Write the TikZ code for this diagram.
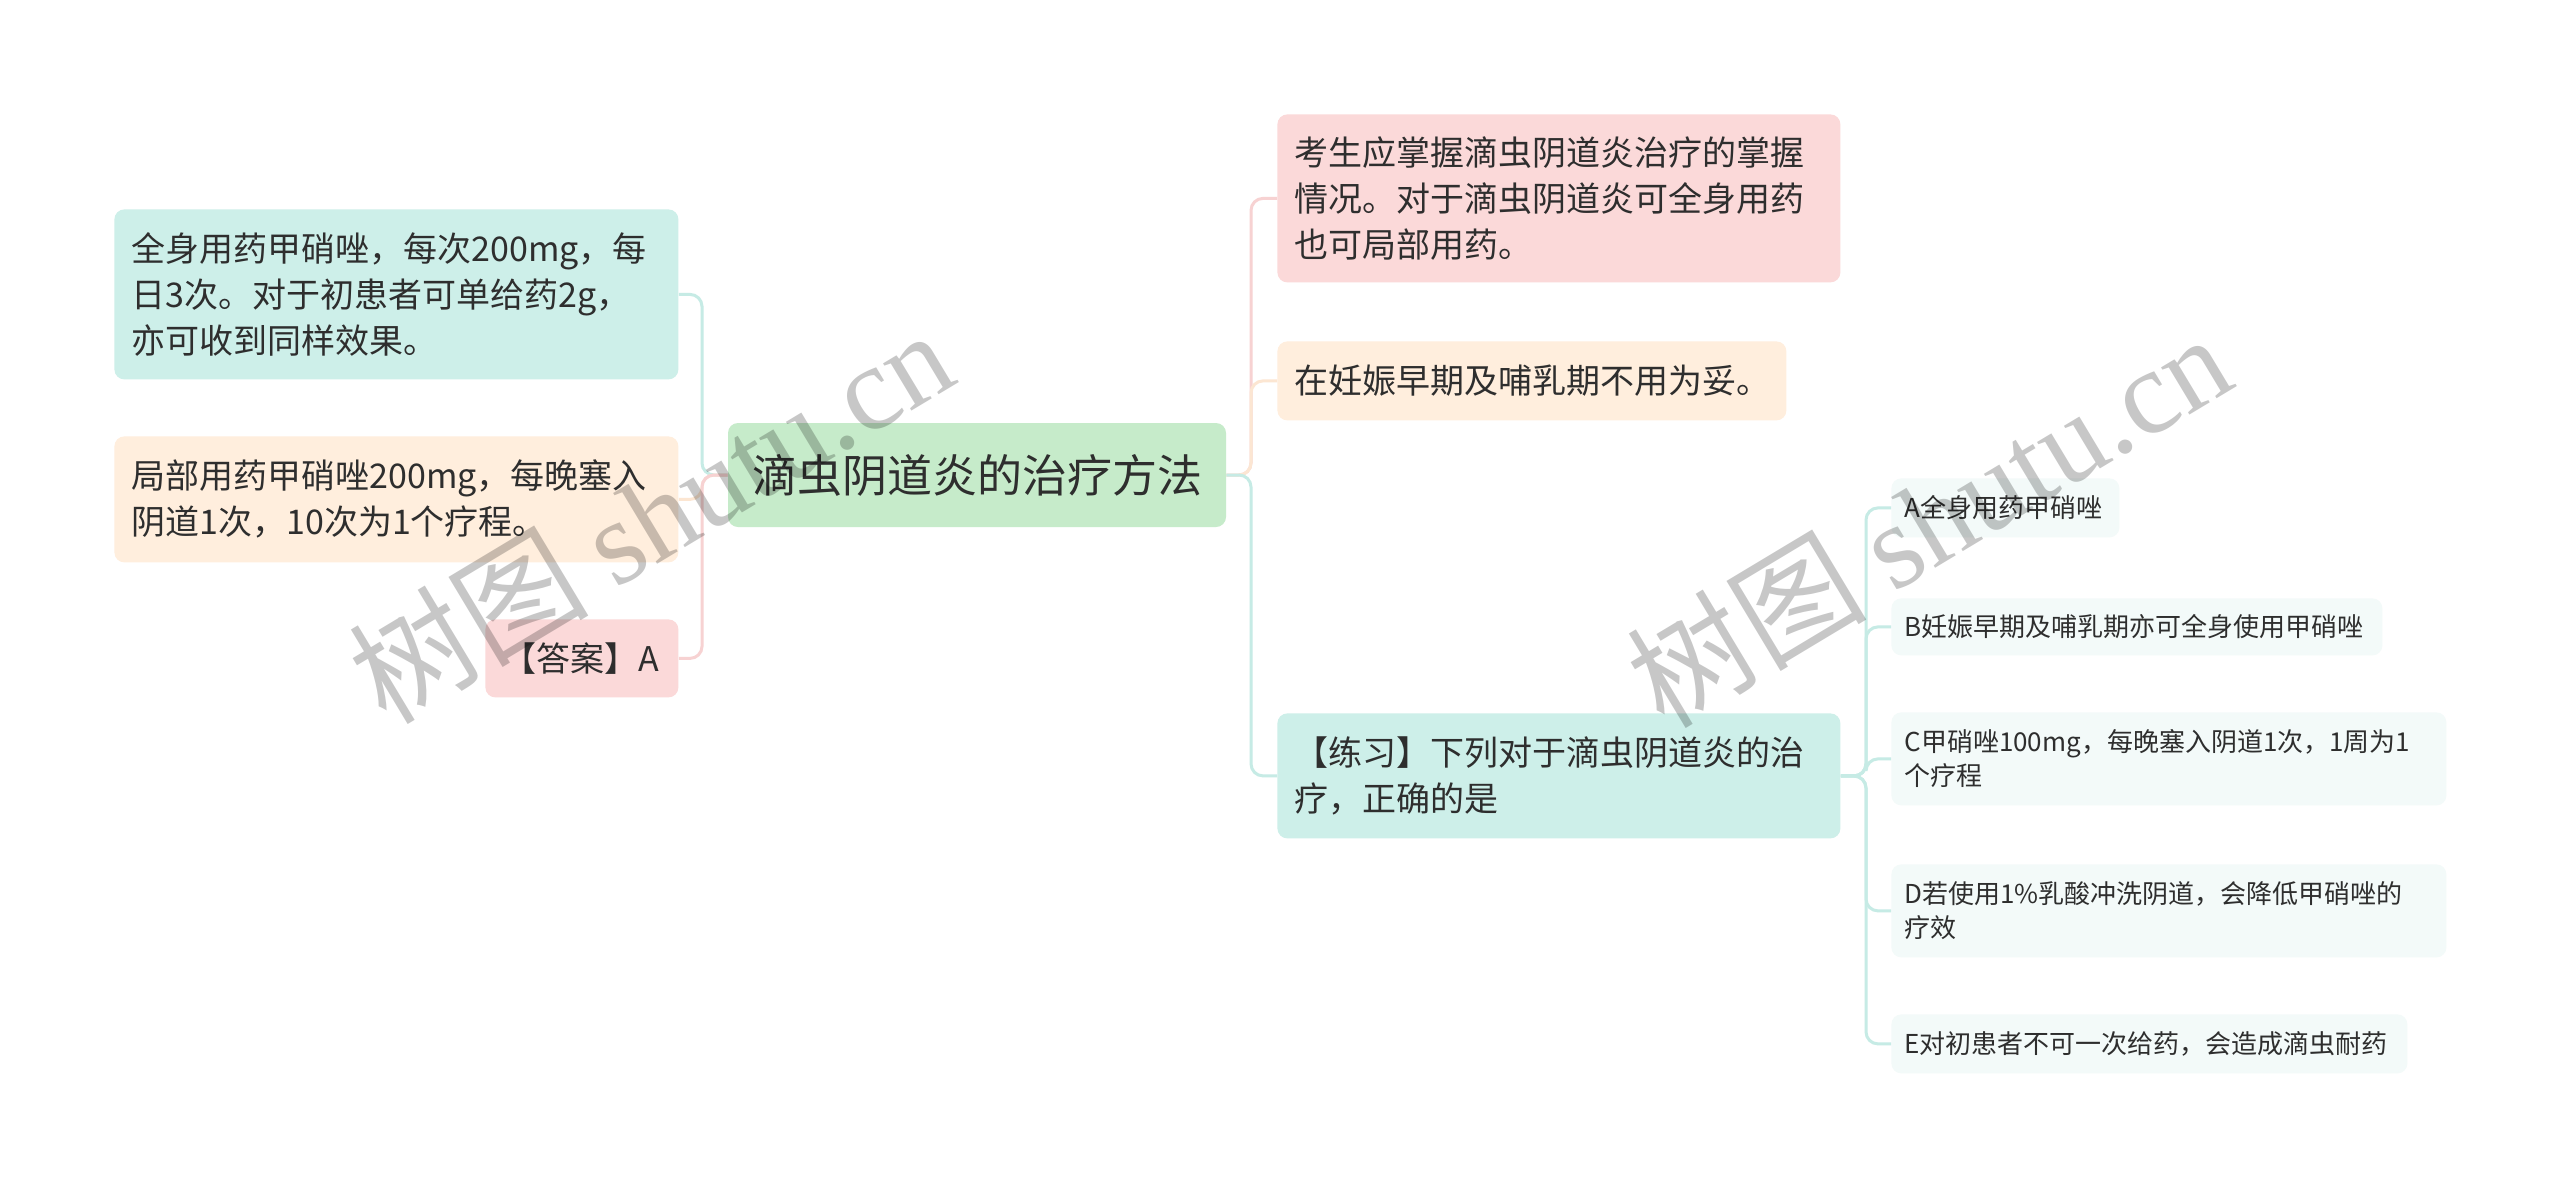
\documentclass[tikz,border=0pt]{standalone}
\usepackage{fontspec}
\setmainfont{Noto Sans CJK SC}
\newfontfamily\wmfont{Liberation Serif}
\definecolor{cmain}{HTML}{C6EBCA}
\definecolor{cteal}{HTML}{CDEFE9}
\definecolor{corange}{HTML}{FFEEDD}
\definecolor{cpink}{HTML}{FBD9D9}
\definecolor{clight}{HTML}{F3FAF9}
\definecolor{lteal}{HTML}{C6EBE5}
\definecolor{lorange}{HTML}{FCE6D2}
\definecolor{lpink}{HTML}{F7D2D2}
\definecolor{ctext}{HTML}{2E2E2E}
\tikzset{
  boxbase/.style={anchor=north west, rounded corners=5pt, inner ysep=0pt, align=left, text=ctext},
  lone/.style={boxbase, inner xsep=8.5pt, font=\fontsize{17}{23}\selectfont},
  ltwo/.style={boxbase, inner xsep=6.5pt, font=\fontsize{13}{17}\selectfont, fill=clight},
  mainbox/.style={fill=cmain, rounded corners=5pt, text=ctext, minimum width=249pt, minimum height=52pt, inner sep=0pt, font=\fontsize{22.5}{27}\selectfont},
  conn/.style={line width=1.5pt, rounded corners=6pt},
  wm/.style={text=black, opacity=0.22, font=\fontsize{60}{60}\selectfont}
}
\begin{document}
\begin{tikzpicture}[x=0.5pt,y=-0.5pt]
\useasboundingbox[fill=white] (0,0) rectangle (2560,1189);
% main
\node[mainbox] (main) at (977,475) {滴虫阴道炎的治疗方法};
% left
\node[lone, fill=cteal, text width=265pt, minimum height=85pt] (b1) at (114,209) {全身用药甲硝唑，每次200mg，每\\日3次。对于初患者可单给药2g，\\亦可收到同样效果。};
\node[lone, fill=corange, text width=265pt, minimum height=63pt] (b2) at (114,436) {局部用药甲硝唑200mg，每晚塞入\\阴道1次，10次为1个疗程。};
\node[lone, fill=cpink, text width=79.5pt, minimum height=39pt] (b3) at (485,619) {【答案】A};
% right level 1
\node[lone, fill=cpink, text width=264.5pt, minimum height=84pt] (r1) at (1277,114) {考生应掌握滴虫阴道炎治疗的掌握\\情况。对于滴虫阴道炎可全身用药\\也可局部用药。};
\node[lone, fill=corange, text width=237.5pt, minimum height=39.5pt] (r2) at (1277,341) {在妊娠早期及哺乳期不用为妥。};
\node[lone, fill=cteal, text width=264.5pt, minimum height=62.5pt] (r3) at (1277,713) {【练习】下列对于滴虫阴道炎的治\\疗，正确的是};
% level 2
\node[ltwo, text width=101pt, minimum height=29.5pt] (qa) at (1891,478) {A全身用药甲硝唑};
\node[ltwo, text width=232.5pt, minimum height=28.5pt] (qb) at (1891,598) {B妊娠早期及哺乳期亦可全身使用甲硝唑};
\node[ltwo, text width=264.5pt, minimum height=46.5pt] (qc) at (1891,712) {C甲硝唑100mg，每晚塞入阴道1次，1周为1\\个疗程};
\node[ltwo, text width=264.5pt, minimum height=46.5pt] (qd) at (1891,864) {D若使用1\%乳酸冲洗阴道，会降低甲硝唑的\\疗效};
\node[ltwo, text width=245pt, minimum height=29.5pt] (qe) at (1891,1014) {E对初患者不可一次给药，会造成滴虫耐药};
% elbow points
\coordinate (lx) at (702,475);
\coordinate (rx) at (1251,475);
\coordinate (qx) at (1866,776);
% connectors
\draw[conn, lteal] (main.west) -- (lx) |- (b1.east);
\draw[conn, lorange] (main.west) -- (lx) |- (b2.east);
\draw[conn, lpink] (main.west) -- (lx) |- (b3.east);
\draw[conn, lpink] (main.east) -- (rx) |- (r1.west);
\draw[conn, lorange] (main.east) -- (rx) |- (r2.west);
\draw[conn, lteal] (main.east) -- (rx) |- (r3.west);
\foreach \q in {qa,qb,qc,qd,qe}{
  \draw[conn, lteal] (r3.east) -- (qx) |- (\q.west);
}
% watermarks
\node[wm, rotate=31] (wm1) at (650,515) {树图 {\wmfont shutu.cn}};
\node[wm, rotate=31] (wm2) at (1928,519) {树图 {\wmfont shutu.cn}};
\end{tikzpicture}
\end{document}
